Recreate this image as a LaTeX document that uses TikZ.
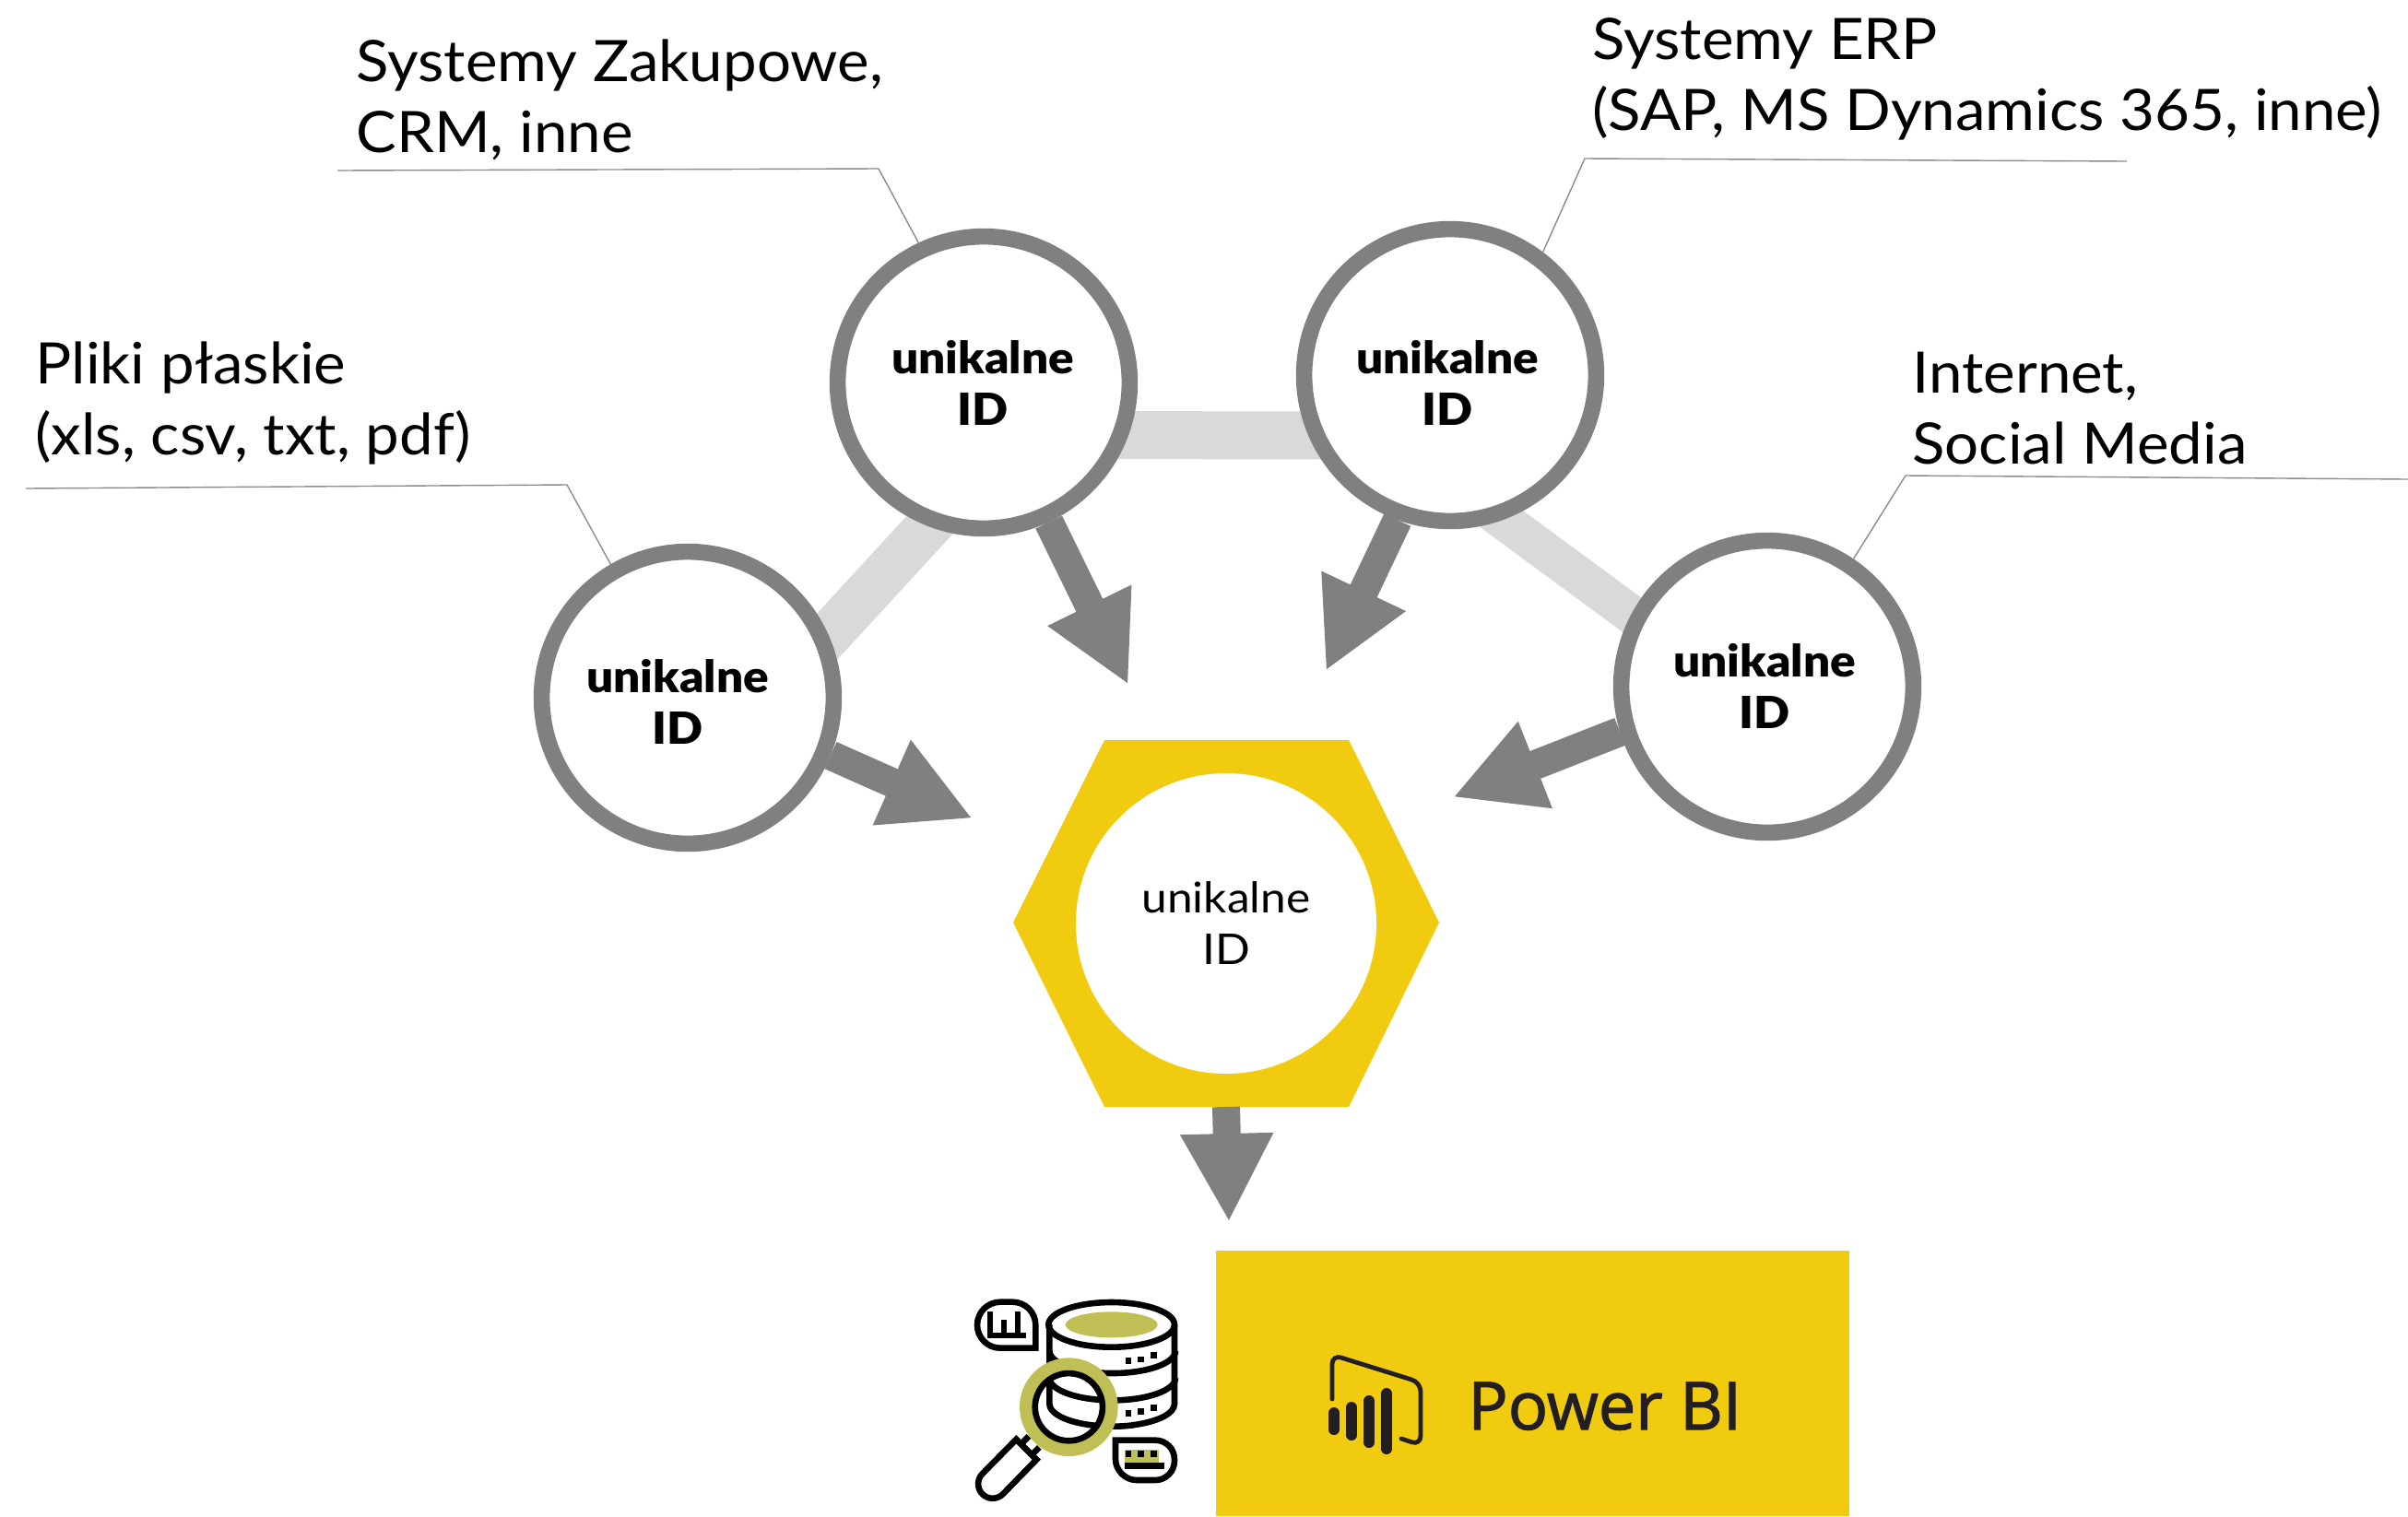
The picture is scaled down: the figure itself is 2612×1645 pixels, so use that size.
\documentclass[tikz,border=0pt]{standalone}
\usepackage{fontspec}
\usetikzlibrary{arrows.meta,shapes.geometric,backgrounds}
\setmainfont[FakeStretch=1.055]{Lato}
\newfontfamily\blk[FakeStretch=1.07]{Lato Black}
\newfontfamily\hubf[FakeStretch=1.08]{Lato}
\newfontfamily\pbi[FakeBold=1.6]{Open Sans}
\definecolor{gr}{HTML}{808080}
\definecolor{lgr}{HTML}{D9D9D9}
\definecolor{yel}{HTML}{F1CB10}
\definecolor{oli}{HTML}{BFBF56}
\definecolor{ink}{HTML}{231F20}
\tikzset{
 ring/.style={circle,draw=gr,fill=white,line width=8.8pt,minimum size=158.4pt,inner sep=0pt},
 idtext/.style={align=center,font=\blk\fontsize{24}{28}\selectfont,inner sep=0pt},
 lab/.style={align=left,anchor=base west,inner sep=0pt,font=\fontsize{31}{38.5}\selectfont},
 band/.style={draw=lgr,line width=26pt,shorten <=-14pt,shorten >=-14pt},
 fat/.style={draw=gr,line width=16pt,-{Triangle[length=48pt,width=47pt]}},
 leader/.style={draw=black!45,line width=0.7pt},
 ic/.style={draw=black,line width=3.3pt,line join=miter},
 bar/.style={draw=ink,line width=6pt,line cap=round},
}
\begin{document}
\begin{tikzpicture}[x=0.5pt,y=-0.5pt]
\useasboundingbox (0,0) rectangle (2612,1645);
% circles
\node[ring] (c1) at (746,757) {};
\node[ring] (c2) at (1067,415) {};
\node[ring] (c3) at (1573,407) {};
\node[ring] (c4) at (1917,745) {};
\node[idtext] (t1) at (735,761) {unikalne\\ID};
\node[idtext] (t2) at (1066,415) {unikalne\\ID};
\node[idtext] (t3) at (1570,415) {unikalne\\ID};
\node[idtext] (t4) at (1914,744) {unikalne\\ID};
% hub
\coordinate (h1) at (1099,1001); \coordinate (h2) at (1198,803); \coordinate (h3) at (1463,803);
\coordinate (h4) at (1561,1001); \coordinate (h5) at (1463,1201); \coordinate (h6) at (1198,1201);
\coordinate (hs) at (1330,1201);
\fill[yel] (h1) -- (h2) -- (h3) -- (h4) -- (h5) -- (h6) -- cycle;
\node[circle,fill=white,minimum size=163pt,inner sep=0pt,align=center,font=\hubf\fontsize{23}{28}\selectfont] (hub) at (1330,1002) {unikalne\\ID};
% target box
\node[fill=yel,minimum width=343.5pt,minimum height=144pt,inner sep=0pt,outer sep=0pt] (bi) at (1662.5,1501) {};
\coordinate (a1) at (1055,888);
\coordinate (a2) at (1224,743);
\coordinate (a3) at (1438,728);
\coordinate (a4) at (1576,865);
\coordinate (a5) at (1333,1326);
\begin{pgfonlayer}{background}
\path[band,line width=25pt] (c1.24) -- (c2.249);
\path[band] (c2.340.7) -- (c3.203.2);
\path[band,line width=21pt] (c3.290) -- (c4.152);
\path[fat] (c1.338) -- (a1);
\path[fat] (c2.295.7) -- (a2);
\path[fat] (c3.250.6) -- (a3);
\path[fat] (c4.197.9) -- (a4);
\end{pgfonlayer}
\path[fat,line width=15pt] (hs) -- (a5);
% leaders
\coordinate (l1a) at (28,530); \coordinate (l1b) at (615,526);
\coordinate (l2a) at (366,185); \coordinate (l2b) at (953,183);
\coordinate (l3a) at (2307,175); \coordinate (l3b) at (1719,172);
\coordinate (l4a) at (2612,520); \coordinate (l4b) at (2067,516);
\path[leader] (l1a) -- (l1b) -- (c1.120.8);
\path[leader] (l2a) -- (l2b) -- (c2.115.6);
\path[leader] (l3a) -- (l3b) -- (c3.53.7);
\path[leader] (l4a) -- (l4b) -- (c4.56);
% labels
\node[lab] (n1) at (38,493) {Pliki płaskie\\(xls, csv, txt, pdf)};
\node[lab] (n2) at (386,165) {Systemy Zakupowe,\\CRM, inne};
\node[lab] (n3) at (1727,141) {Systemy ERP\\(SAP, MS Dynamics 365, inne)};
\node[lab] (n4) at (2074,503) {Internet,\\Social Media};
% Power BI
\node[anchor=base west,inner sep=0pt,text=ink,font=\pbi\fontsize{36}{40}\selectfont] (pb) at (1592,1551) {Power BI};
\draw[ink,line width=2.4pt,line cap=round,rounded corners=5pt] (1445,1518) -- (1445,1470) -- (1541,1500) -- (1541,1568) -- (1520,1561);
\draw[bar] (1447,1533) -- (1447,1551);
\draw[bar] (1466,1527) -- (1466,1557);
\draw[bar] (1485,1520) -- (1485,1565);
\draw[bar] (1504,1512) -- (1504,1572);
% database icon
\begin{scope}[shift={(1030,1380)},x=0.16667pt,y=-0.16667pt]
\draw[ic] (325,172) -- (325,430) arc[start angle=180,end angle=290,x radius=34.17pt,y radius=12.17pt];
\draw[ic] (732,172) -- (732,430) arc[start angle=0,end angle=-70,x radius=34.17pt,y radius=12.17pt];
\draw[ic] (527,172) ellipse[x radius=34.17pt,y radius=12.17pt];
\fill[oli] (527,172) ellipse[x radius=25pt,y radius=7pt];
\draw[ic] (325,257) arc[start angle=180,end angle=360,x radius=34.17pt,y radius=12.17pt];
\draw[ic] (325,345) arc[start angle=180,end angle=360,x radius=34.17pt,y radius=12.17pt];
\foreach \yy in {0,170}{
 \fill (572,280+\yy) rectangle ++(20,20);
 \fill (613,275+\yy) rectangle ++(20,20);
 \fill (655,262+\yy) rectangle ++(20,20);
}
% bubbles
\draw[ic] (280,248) -- (165,248) arc[start angle=270,end angle=90,radius=12.5pt] -- (205,98) arc[start angle=90,end angle=0,radius=12.5pt] -- cycle;
\draw[black,line width=3pt] (122,208) -- (248,208);
\draw[black,line width=3pt] (132,208) -- (132,130) (178,208) -- (178,155) (222,208) -- (222,130);
\draw[ic] (540,548) -- (670,548) arc[start angle=90,end angle=0,radius=10.3pt] -- (732,615) arc[start angle=0,end angle=-90,radius=10.5pt] -- (610,678) arc[start angle=270,end angle=180,radius=11.7pt] -- cycle;
\fill[oli] (570,578) rectangle (680,622);
\fill (572,582) rectangle ++(20,20);
\fill (613,582) rectangle ++(20,20);
\fill (655,582) rectangle ++(20,20);
\fill (570,622) rectangle (698,642);
% magnifier
\draw[ic,fill=white] (217,545) -- (107,657) arc[start angle=135,end angle=315,radius=7.83pt] -- (283,611) -- cycle;
\draw[ic] (233,560) -- (258,535) (267,596) -- (292,571);
\fill[oli,even odd rule] (388,440) circle[radius=26.67pt] (388,440) circle[radius=19pt];
\draw[ic] (388,440) circle[radius=18.3pt];
\end{scope}
\end{tikzpicture}
\end{document}
